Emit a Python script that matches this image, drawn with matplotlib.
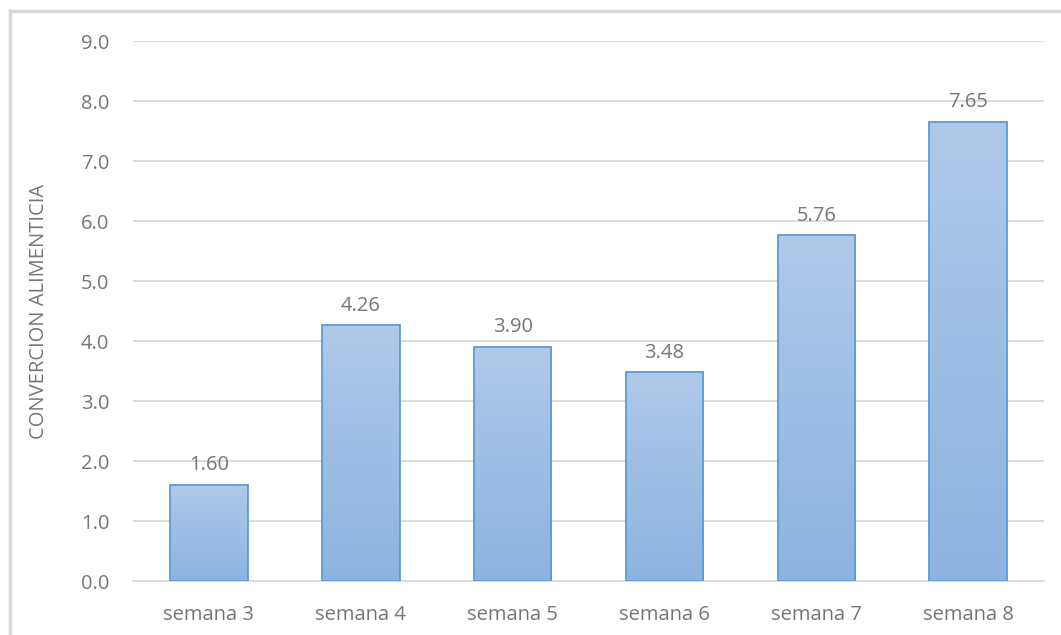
import numpy as np
import matplotlib.pyplot as plt
from matplotlib import lines
from matplotlib.colors import LinearSegmentedColormap

categories = ['semana 3', 'semana 4', 'semana 5', 'semana 6', 'semana 7', 'semana 8']
values = [1.60, 4.26, 3.90, 3.48, 5.76, 7.65]
yticks = [0.0, 1.0, 2.0, 3.0, 4.0, 5.0, 6.0, 7.0, 8.0, 9.0]

plt.rcParams['font.family'] = ['Open Sans', 'DejaVu Sans']
txt = '#767676'
grid = '#d9d9d9'
fs = 14.5

fig = plt.figure(figsize=(10.61, 6.35), dpi=100)
ax = fig.add_axes([0.1254, 0.085, 0.8586, 0.8504])

x = np.arange(len(categories))
bars = ax.bar(x, values, width=0.51, facecolor='none', edgecolor='#5b9bd5',
              linewidth=1.3, zorder=3)

# vertical gradient inside each bar
cmap = LinearSegmentedColormap.from_list('g', ['#8db3e2', '#afc9e8'])
grad = np.linspace(0, 1, 256)[:, np.newaxis]
for b in bars:
    x0, w, h = b.get_x(), b.get_width(), b.get_height()
    im = ax.imshow(grad, cmap=cmap, origin='lower', aspect='auto',
                   extent=(x0, x0 + w, 0, h), zorder=2)
    im.set_clip_path(b)

for xi, v in zip(x, values):
    ax.annotate(f'{v:.2f}', (xi, v), xytext=(0, 7), textcoords='offset points',
                ha='center', va='bottom', fontsize=fs, color=txt)

ax.set_xlim(-0.5, len(categories) - 0.5)
ax.set_ylim(0, 9)
ax.set_yticks(yticks)
ax.set_yticklabels([f'{t:.1f}' for t in yticks])
ax.set_xticks(x)
ax.set_xticklabels(categories)
ax.tick_params(axis='both', length=0, labelsize=fs, colors=txt)
ax.tick_params(axis='x', pad=17)
ax.tick_params(axis='y', pad=17)
ax.yaxis.grid(True, color=grid, linewidth=1.3, zorder=0)
ax.set_axisbelow(True)
for s in ['top', 'right', 'left']:
    ax.spines[s].set_visible(False)
ax.spines['bottom'].set_color(grid)
ax.spines['bottom'].set_linewidth(1.3)
ax.set_ylabel('CONVERCION ALIMENTICIA', fontsize=fs, color=txt, labelpad=23)

# chart area border (left and top edges only visible)
fig.add_artist(lines.Line2D([10 / 1061, 10 / 1061], [0, 1 - 11 / 635],
                            color=grid, linewidth=2.5))
fig.add_artist(lines.Line2D([10 / 1061, 1], [1 - 11 / 635, 1 - 11 / 635],
                            color=grid, linewidth=2.5))

fig.savefig('out.png')
